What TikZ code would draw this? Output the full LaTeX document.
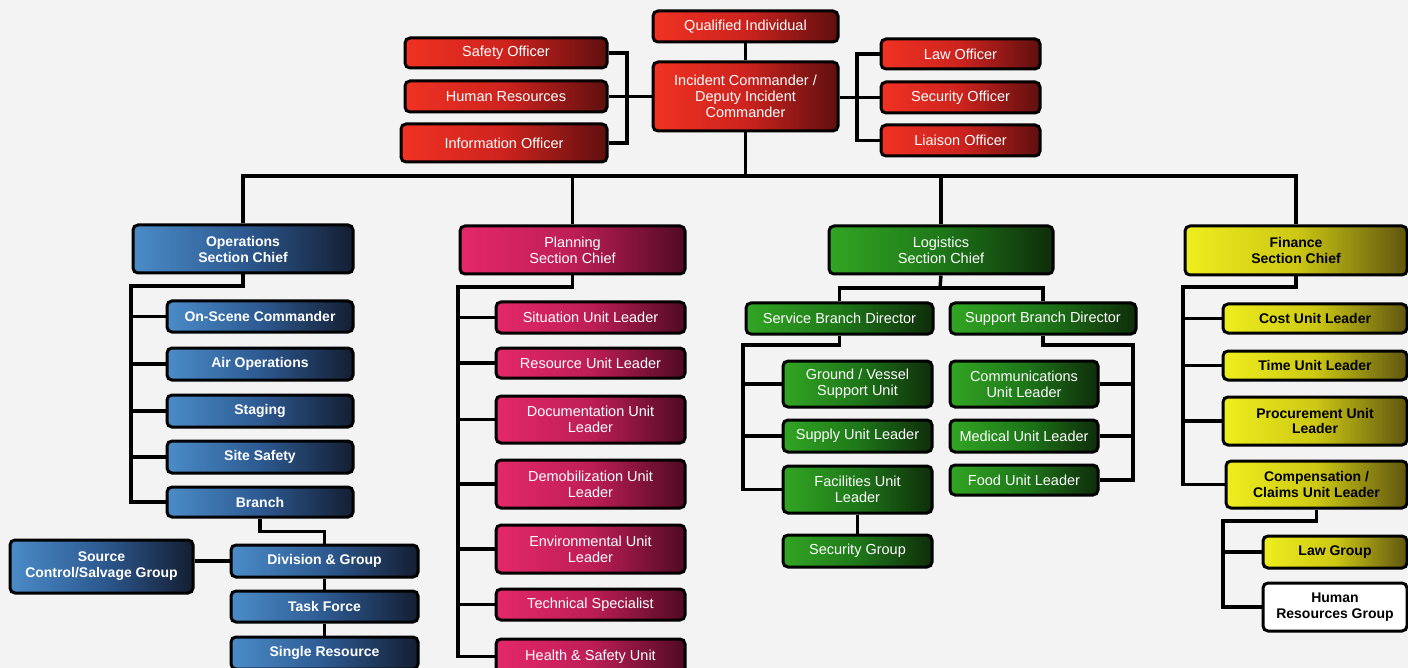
\documentclass[tikz,border=0pt]{standalone}
\usepackage{fontspec}
\setmainfont{Liberation Sans}
\definecolor{redL}{RGB}{240,50,35}
\definecolor{redM}{RGB}{205,35,30}
\definecolor{redR}{RGB}{95,15,15}
\definecolor{bluL}{RGB}{75,140,200}
\definecolor{bluM}{RGB}{45,90,145}
\definecolor{bluR}{RGB}{20,30,50}
\definecolor{crmL}{RGB}{228,40,105}
\definecolor{crmM}{RGB}{190,30,85}
\definecolor{crmR}{RGB}{80,10,35}
\definecolor{grnL}{RGB}{50,165,35}
\definecolor{grnM}{RGB}{30,120,25}
\definecolor{grnR}{RGB}{15,45,10}
\definecolor{ylwL}{RGB}{238,238,30}
\definecolor{ylwM}{RGB}{205,200,20}
\definecolor{ylwR}{RGB}{95,85,15}
\definecolor{bgc}{RGB}{243,243,243}
\tikzset{
  box/.style={draw=black, line width=3pt, rounded corners=5pt, inner sep=0pt,
    align=center, text=white, font=\fontsize{14.5}{16}\selectfont},
  redbox/.style={box, left color=redL, right color=redR, middle color=redM},
  blubox/.style={box, left color=bluL, right color=bluR, middle color=bluM,
    font=\fontsize{14}{16}\selectfont\bfseries},
  crmbox/.style={box, left color=crmL, right color=crmR, middle color=crmM},
  grnbox/.style={box, left color=grnL, right color=grnR, middle color=grnM},
  ylwbox/.style={box, left color=ylwL, right color=ylwR, middle color=ylwM,
    text=black, font=\fontsize{14}{15.5}\selectfont\bfseries},
  whtbox/.style={box, fill=white, text=black, font=\fontsize{14}{15.5}\selectfont\bfseries},
  conn/.style={draw=black, line width=3.4pt}
}
\newcommand\ubox[7]{\node[#2, anchor=north west,
  minimum width={(#5-#3-3)*1pt}, minimum height={(#6-#4-3)*1pt}]
  (#1) at (#3+1.5,#4+1.5) {#7};}
\begin{document}
\begin{tikzpicture}[x=1pt,y=-1pt]
\fill[bgc] (0,0) rectangle (1408,668);
\useasboundingbox (0,0) rectangle (1408,668);
% top
\ubox{qi}{redbox}{650}{8}{838}{42}{Qualified Individual}
\ubox{ic}{redbox}{650}{59}{838}{131}{Incident Commander /\\Deputy Incident\\Commander}
\ubox{so}{redbox}{402}{35}{607}{68}{Safety Officer}
\ubox{hr}{redbox}{402}{78}{607}{112}{Human Resources}
\ubox{io}{redbox}{398}{121}{607}{162}{Information Officer}
\ubox{lo}{redbox}{878}{36}{1040}{69}{Law Officer}
\ubox{sco}{redbox}{878}{79}{1040}{113}{Security Officer}
\ubox{lio}{redbox}{878}{122}{1040}{156}{Liaison Officer}
% sections
\ubox{ops}{blubox}{130}{222}{353}{273}{Operations\\Section Chief}
\ubox{plan}{crmbox}{457}{223}{685}{274}{Planning\\Section Chief}
\ubox{log}{grnbox}{826}{223}{1053}{274}{Logistics\\Section Chief}
\ubox{fin}{ylwbox}{1182}{223}{1407}{275}{Finance\\Section Chief}
% operations
\ubox{osc}{blubox}{164}{298}{353}{332}{On-Scene Commander}
\ubox{air}{blubox}{164}{345}{353}{380}{Air Operations}
\ubox{stg}{blubox}{164}{392}{353}{427}{Staging}
\ubox{ss}{blubox}{164}{438}{353}{473}{Site Safety}
\ubox{br}{blubox}{164}{484}{353}{517}{Branch}
\ubox{div}{blubox}{228}{542}{418}{577}{Division \& Group}
\ubox{tf}{blubox}{228}{588}{418}{622}{Task Force}
\ubox{sr}{blubox}{228}{634}{418}{669}{Single Resource}
\ubox{src}{blubox}{7}{537}{193}{593}{Source\\Control/Salvage Group}
% planning
\ubox{sit}{crmbox}{493}{299}{685}{333}{Situation Unit Leader}
\ubox{res}{crmbox}{493}{345}{685}{378}{Resource Unit Leader}
\ubox{doc}{crmbox}{493}{393}{685}{443}{Documentation Unit\\Leader}
\ubox{dem}{crmbox}{493}{457}{685}{508}{Demobilization Unit\\Leader}
\ubox{env}{crmbox}{493}{522}{685}{573}{Environmental Unit\\Leader}
\ubox{tech}{crmbox}{493}{586}{685}{620}{Technical Specialist}
\ubox{hs}{crmbox}{493}{636}{685}{674}{Health \& Safety Unit}
% logistics
\ubox{serv}{grnbox}{743}{300}{933}{334}{Service Branch Director}
\ubox{supp}{grnbox}{947}{300}{1136}{334}{Support Branch Director}
\ubox{gv}{grnbox}{780}{358}{932}{407}{Ground / Vessel\\Support Unit}
\ubox{sup}{grnbox}{780}{417}{932}{452}{Supply Unit Leader}
\ubox{fac}{grnbox}{780}{463}{932}{513}{Facilities Unit\\Leader}
\ubox{secg}{grnbox}{780}{532}{932}{567}{Security Group}
\ubox{com}{grnbox}{947}{358}{1098}{407}{Communications\\Unit Leader}
\ubox{med}{grnbox}{947}{417}{1098}{452}{Medical Unit Leader}
\ubox{food}{grnbox}{947}{462}{1098}{495}{Food Unit Leader}
% finance
\ubox{cost}{ylwbox}{1220}{301}{1407}{333}{Cost Unit Leader}
\ubox{time}{ylwbox}{1220}{348}{1407}{380}{Time Unit Leader}
\ubox{proc}{ylwbox}{1220}{394}{1407}{445}{Procurement Unit\\Leader}
\ubox{comp}{ylwbox}{1223}{458}{1407}{508}{Compensation /\\Claims Unit Leader}
\ubox{law}{ylwbox}{1260}{533}{1407}{568}{Law Group}
\ubox{hrg}{whtbox}{1260}{580}{1407}{631}{Human\\Resources Group}
% coordinates
\coordinate (lb) at (627,95);
\coordinate (rb) at (857,95);
\coordinate (bus) at (744,176);
\coordinate (opsbar) at (131,286);
\coordinate (planbar) at (458,287);
\coordinate (logbar) at (940,288);
\coordinate (sb) at (743,345);
\coordinate (pb) at (1133,345);
\coordinate (finbar) at (1183,287);
\coordinate (cb) at (1223,521);
% connectors top
\draw[conn] (qi) -- (ic);
\draw[conn] (so.east) -| (lb) |- (io.east);
\draw[conn] (hr.east) -- (hr.east -| ic.west);
\draw[conn] (lo.west) -| (rb) |- (lio.west);
\draw[conn] (sco.west) -- (sco.west -| ic.east);
\draw[conn] (ic.south) -- (ic.south |- bus);
\draw[conn] (ops.north) |- (fin.north |- bus) -- (fin.north);
\draw[conn] (plan.north) -- (plan.north |- bus);
\draw[conn] (log.north) -- (log.north |- bus);
% operations
\draw[conn] (ops.south) |- (opsbar) |- (br.west);
\foreach \n in {osc,air,stg,ss} \draw[conn] (\n.west) -- (\n.west -| opsbar);
\draw[conn] (br.south) -- ++(0,13) -| (div.north);
\draw[conn] (div.west -| src.east) -- (div.west);
\draw[conn] (div) -- (tf);
\draw[conn] (tf) -- (sr);
% planning
\draw[conn] (plan.south) |- (planbar) |- (hs.west);
\foreach \n in {sit,res,doc,dem,env,tech} \draw[conn] (\n.west) -- (\n.west -| planbar);
% logistics
\draw[conn] (log.south) -- (logbar);
\draw[conn] (serv.north) |- (logbar) -| (supp.north);
\draw[conn] (serv.south) |- (sb) |- (fac.west);
\foreach \n in {gv,sup} \draw[conn] (\n.west) -- (\n.west -| sb);
\draw[conn] (supp.south) |- (pb) |- (food.east);
\foreach \n in {com,med} \draw[conn] (\n.east) -- (\n.east -| pb);
\draw[conn] (fac) -- (secg);
% finance
\draw[conn] (fin.south) |- (finbar) |- (comp.west);
\foreach \n in {cost,time,proc} \draw[conn] (\n.west) -- (\n.west -| finbar);
\draw[conn] (comp.south) |- (cb) |- (hrg.west);
\draw[conn] (law.west) -- (law.west -| cb);
\end{tikzpicture}
\end{document}
